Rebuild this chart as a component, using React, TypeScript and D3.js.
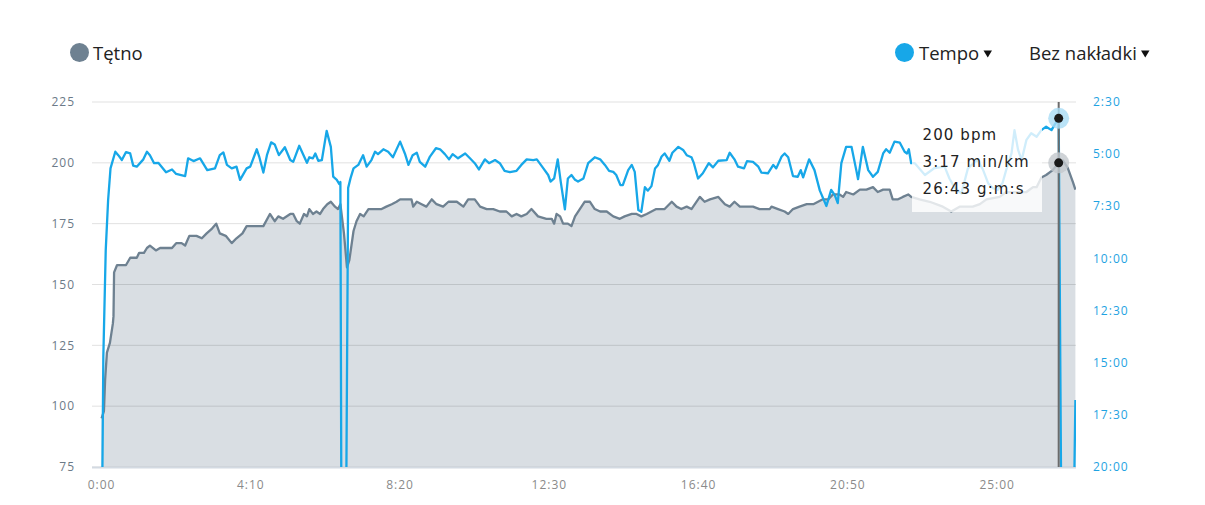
import React from 'react';
import * as d3 from 'd3';

// Heart rate series (time in seconds, bpm)
const hrTime = [0,4,6,9,14,19,20,21,26,41,48,59,63,71,76,81,91,98,118,125,134,140,147,159,168,176,185,192,198,208,218,226,236,243,251,260,271,282,290,296,304,316,321,327,332,339,344,348,354,360,366,371,378,384,391,396,400,406,411,415,422,427,433,439,447,453,461,469,477,486,494,500,511,519,522,528,536,544,553,561,572,581,595,606,614,625,634,645,656,667,678,687,695,703,712,720,731,745,754,758,762,768,773,781,787,793,801,809,818,826,835,846,857,868,876,888,896,904,913,921,929,943,955,963,971,980,988,1002,1010,1019,1033,1044,1052,1060,1069,1091,1102,1119,1122,1133,1144,1150,1158,1169,1181,1192,1200,1208,1217,1225,1236,1242,1247,1259,1270,1281,1292,1300,1309,1320,1325,1334,1342,1351,1356,1370,1387,1409,1423,1437,1459,1471,1482,1504,1515,1526,1549,1560,1566,1574,1582,1593,1603,1610,1618,1627,1631];
const hrBpm = [95,98,111,122,126,134,137,155,158,158,161,161,163,163,165,166,164,165,165,167,167,166,170,170,169,171,173,175,171,170,167,169,171,174,174,174,174,179,176,178,177,179,179,176,175,179,178,181,179,180,179,181,183,184,182,181,183,171,157,160,172,176,179,178,181,181,181,181,182,183,184,185,185,185,182,184,183,182,185,183,182,184,184,182,185,185,182,181,181,180,180,178,179,178,179,181,178,177,177,175,179,178,175,175,174,178,181,184,184,181,180,180,178,177,178,179,179,178,179,180,181,181,184,182,181,182,181,186,184,185,186,183,182,184,182,182,181,181,182,181,180,179,181,182,183,183,184,185,185,187,187,186,188,187,189,189,190,188,189,189,185,185,186,187,186,185,184,182,180,182,182,183,185,186,188,188,188,190,190,194,195,197,200,201,198,192,189];

// Pace series (time in seconds, pace in seconds per km; 1500 = off chart / stopped)
const paceTime = [0,3,7,11,15,23,28,34,41,48,53,59,70,76,81,88,95,108,118,125,140,145,154,165,177,190,198,204,210,218,226,232,243,249,260,264,271,277,284,290,297,307,316,321,331,344,348,354,358,363,369,377,384,388,394,398,400,402,409,413,417,422,430,438,444,452,458,463,472,480,488,500,508,514,521,528,533,542,550,560,567,575,582,588,597,609,617,625,632,642,649,659,667,675,684,695,703,712,723,729,740,748,752,758,764,769,776,781,787,793,798,807,815,826,835,843,850,857,862,869,873,882,888,893,899,904,910,915,921,927,932,938,943,951,956,966,974,980,988,992,999,1007,1017,1024,1033,1047,1052,1060,1066,1076,1081,1091,1100,1105,1116,1125,1130,1139,1144,1150,1158,1166,1171,1175,1185,1194,1203,1214,1222,1228,1233,1239,1247,1256,1264,1267,1275,1284,1292,1300,1309,1314,1320,1328,1337,1345,1349,1352,1356,1362,1379,1395,1412,1420,1429,1440,1451,1461,1467,1476,1485,1493,1501,1509,1515,1524,1529,1535,1541,1549,1557,1566,1574,1582,1591,1596,1603,1608,1627,1631];
const paceSec = [1500,883,576,432,341,293,303,317,294,298,333,336,315,293,303,326,325,352,344,357,363,312,320,312,346,341,303,295,331,341,336,374,341,336,286,307,353,303,266,272,303,280,317,322,276,325,309,312,298,319,317,233,279,365,374,386,380,1500,1500,397,369,341,331,303,336,317,293,300,286,293,309,264,298,331,303,296,322,336,307,283,286,300,315,300,312,298,312,326,344,315,326,317,326,348,352,348,331,315,317,315,341,360,379,370,315,379,459,370,360,374,379,370,326,309,315,331,348,351,360,389,389,346,331,351,461,466,395,405,392,341,331,307,298,319,296,279,288,303,309,326,370,355,326,338,319,317,296,315,336,341,320,322,336,353,355,331,341,307,298,309,363,365,346,367,315,346,405,449,403,418,441,326,279,279,346,372,279,346,365,351,298,286,296,264,267,293,298,286,326,326,360,340,336,370,397,413,341,325,317,344,384,398,403,383,346,298,231,288,317,259,240,250,231,221,231,216,197,1500,1500,1007];

const hrTicks = [75, 100, 125, 150, 175, 200, 225];
const paceTicks = [150, 300, 450, 600, 750, 900, 1050, 1200];
const paceTickLabels = ['2:30', '5:00', '7:30', '10:00', '12:30', '15:00', '17:30', '20:00'];
const timeTicks = [0, 250, 500, 750, 1000, 1250, 1500];
const timeTickLabels = ['0:00', '4:10', '8:20', '12:30', '16:40', '20:50', '25:00'];

const cursorTime = 1603;
const cursorHr = 200;
const cursorPace = 197;
const tooltipLines = ['200 bpm', '3:17 min/km', '26:43 g:m:s'];

const legendLeft = 'Tętno';
const legendTempo = 'Tempo';
const legendOverlay = 'Bez nakładki';

const HR_COLOR = '#6e8191';
const PACE_COLOR = '#17a7e8';
const AREA_COLOR = '#d9dee3';

export default function App() {
  const W = 1205, H = 505;
  const left = 92, right = 1076, top = 102, bottom = 467;

  const x = d3.scaleLinear().domain([-16, 1632]).range([left, right]);
  const yHr = d3.scaleLinear().domain([75, 225]).range([bottom, top]);
  const yPace = d3.scaleLinear().domain([150, 1200]).range([top, bottom]);

  const hrData = hrTime.map((t, i) => [t, hrBpm[i]] as [number, number]);
  const paceData = paceTime.map((t, i) => [t, paceSec[i]] as [number, number]);

  const hrLine = d3.line<[number, number]>().x(d => x(d[0])).y(d => yHr(d[1]))(hrData) || '';
  const hrArea = d3.area<[number, number]>().x(d => x(d[0])).y0(bottom).y1(d => yHr(d[1]))(hrData) || '';
  const paceLine = d3.line<[number, number]>().x(d => x(d[0])).y(d => yPace(d[1]))(paceData) || '';

  const tickFont = { fontFamily: '"Open Sans", sans-serif', fontSize: 12, letterSpacing: 1 };
  const legendFont = { fontFamily: '"Open Sans", sans-serif', fontSize: 18.5 };
  const cx = x(cursorTime);

  const tri = (x0: number) => `M${x0},50.5 L${x0 + 8.5},50.5 L${x0 + 4.25},57.5 Z`;

  return (
    <svg width={W} height={H} style={{ position: 'absolute', left: 0, top: 0 }}>
      <defs>
        <clipPath id="plot">
          <rect x={left} y={top - 2} width={right - left} height={bottom - top + 2} />
        </clipPath>
      </defs>
      <rect x={0} y={0} width={W} height={H} fill="#fff" />

      {/* legend */}
      <circle cx={79.5} cy={52.5} r={9.5} fill={HR_COLOR} />
      <text x={93} y={59.5} fill="#222" style={legendFont}>{legendLeft}</text>
      <circle cx={904.5} cy={52.5} r={9.5} fill={PACE_COLOR} />
      <text x={919} y={59.5} fill="#222" style={legendFont}>{legendTempo}</text>
      <path d={tri(983.5)} fill="#111" />
      <text x={1029} y={59.5} fill="#222" style={legendFont}>{legendOverlay}</text>
      <path d={tri(1141)} fill="#111" />

      {/* area */}
      <path d={hrArea} fill={AREA_COLOR} clipPath="url(#plot)" />

      {/* grid */}
      {hrTicks.map(t => (
        <line key={t} x1={left} x2={right} y1={yHr(t)} y2={yHr(t)} stroke="#000" strokeOpacity={0.12} strokeWidth={1} />
      ))}
      <line x1={left} x2={right} y1={bottom + 0.5} y2={bottom + 0.5} stroke="#d3dae2" strokeWidth={2} />

      {/* lines */}
      <path d={hrLine} fill="none" stroke={HR_COLOR} strokeWidth={2.3} strokeLinejoin="round" clipPath="url(#plot)" />
      <path d={paceLine} fill="none" stroke={PACE_COLOR} strokeWidth={2.3} strokeLinejoin="round" clipPath="url(#plot)" />

      {/* left axis labels */}
      {hrTicks.map(t => (
        <text key={t} x={75} y={yHr(t)} dy="0.35em" textAnchor="end" fill="#6c7a88" style={tickFont}>{t}</text>
      ))}
      {/* right axis labels */}
      {paceTicks.map((t, i) => (
        <text key={t} x={1093} y={yPace(t)} dy="0.35em" textAnchor="start" fill="#1fa3e2" style={tickFont}>{paceTickLabels[i]}</text>
      ))}
      {/* x axis labels */}
      {timeTicks.map((t, i) => (
        <text key={t} x={x(t)} y={489} textAnchor="middle" fill="#8a8a8a" style={tickFont}>{timeTickLabels[i]}</text>
      ))}

      {/* tooltip */}
      <rect x={912} y={113} width={130} height={99} fill="#fff" fillOpacity={0.8} />
      {tooltipLines.map((s, i) => (
        <text key={i} x={922.5} y={140 + i * 27} fill="#222"
          style={{ fontFamily: '"DejaVu Sans", sans-serif', fontSize: 15, letterSpacing: 1.1 }}>{s}</text>
      ))}

      {/* cursor */}
      <line x1={cx} x2={cx} y1={top} y2={bottom} stroke="#6b6b6b" strokeWidth={2} />
      <circle cx={cx} cy={yPace(cursorPace)} r={10.5} fill="#a9dcf5" fillOpacity={0.8} />
      <circle cx={cx} cy={yPace(cursorPace)} r={4.5} fill="#1a1a1a" />
      <circle cx={cx} cy={yHr(cursorHr)} r={10.5} fill="#c3c8cd" fillOpacity={0.8} />
      <circle cx={cx} cy={yHr(cursorHr)} r={4.5} fill="#1a1a1a" />
    </svg>
  );
}
